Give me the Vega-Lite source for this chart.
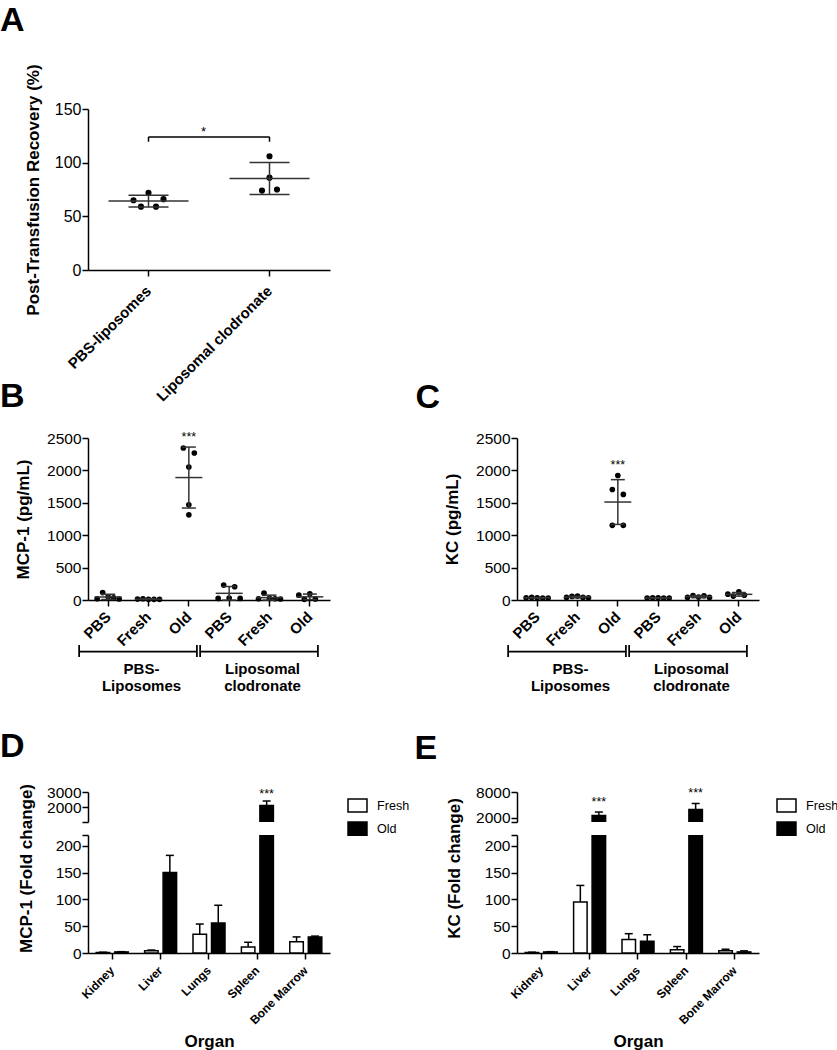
{
  "$schema": "https://vega.github.io/schema/vega-lite/v6.json",
  "padding": {"left": 0, "top": 3, "right": 0, "bottom": 0},
  "background": "white",
  "columns": 2,
  "spacing": {"row": 13, "column": 187},
  "bounds": "flush",
  "resolve": {"scale": {"fill": "independent"}, "legend": {"fill": "independent"}},
  "datasets": {
    "recovery": [
      {"group": "PBS-liposomes", "slot": 1, "value": 65},
      {"group": "PBS-liposomes", "slot": 2, "value": 59},
      {"group": "PBS-liposomes", "slot": 3, "value": 72},
      {"group": "PBS-liposomes", "slot": 4, "value": 59},
      {"group": "PBS-liposomes", "slot": 5, "value": 66},
      {"group": "Liposomal clodronate", "slot": 2, "value": 74},
      {"group": "Liposomal clodronate", "slot": 3, "value": 86},
      {"group": "Liposomal clodronate", "slot": 3, "value": 106},
      {"group": "Liposomal clodronate", "slot": 4, "value": 75}
    ],
    "sigA": [
      {"from": "PBS-liposomes", "to": "Liposomal clodronate", "level": 124, "foot": 119.5, "label": "*"}
    ],
    "mcp1": [
      {"cat": "PBS-Liposomes|PBS", "slot": 1, "value": 20},
      {"cat": "PBS-Liposomes|PBS", "slot": 2, "value": 115},
      {"cat": "PBS-Liposomes|PBS", "slot": 3, "value": 50},
      {"cat": "PBS-Liposomes|PBS", "slot": 4, "value": 35},
      {"cat": "PBS-Liposomes|PBS", "slot": 5, "value": 15},
      {"cat": "PBS-Liposomes|Fresh", "slot": 1, "value": 15},
      {"cat": "PBS-Liposomes|Fresh", "slot": 2, "value": 20},
      {"cat": "PBS-Liposomes|Fresh", "slot": 3, "value": 10},
      {"cat": "PBS-Liposomes|Fresh", "slot": 4, "value": 10},
      {"cat": "PBS-Liposomes|Fresh", "slot": 5, "value": 10},
      {"cat": "PBS-Liposomes|Old", "slot": 2, "value": 2345},
      {"cat": "PBS-Liposomes|Old", "slot": 4, "value": 2268},
      {"cat": "PBS-Liposomes|Old", "slot": 3, "value": 2052},
      {"cat": "PBS-Liposomes|Old", "slot": 3, "value": 1469},
      {"cat": "PBS-Liposomes|Old", "slot": 3, "value": 1314},
      {"cat": "Liposomal clodronate|PBS", "slot": 1, "value": 25},
      {"cat": "Liposomal clodronate|PBS", "slot": 2, "value": 230},
      {"cat": "Liposomal clodronate|PBS", "slot": 3, "value": 30},
      {"cat": "Liposomal clodronate|PBS", "slot": 4, "value": 205},
      {"cat": "Liposomal clodronate|PBS", "slot": 5, "value": 25},
      {"cat": "Liposomal clodronate|Fresh", "slot": 1, "value": 20},
      {"cat": "Liposomal clodronate|Fresh", "slot": 2, "value": 105},
      {"cat": "Liposomal clodronate|Fresh", "slot": 3, "value": 25},
      {"cat": "Liposomal clodronate|Fresh", "slot": 4, "value": 20},
      {"cat": "Liposomal clodronate|Fresh", "slot": 5, "value": 15},
      {"cat": "Liposomal clodronate|Old", "slot": 1, "value": 75},
      {"cat": "Liposomal clodronate|Old", "slot": 2, "value": 10},
      {"cat": "Liposomal clodronate|Old", "slot": 3, "value": 95},
      {"cat": "Liposomal clodronate|Old", "slot": 4, "value": 15}
    ],
    "kc": [
      {"cat": "PBS-Liposomes|PBS", "slot": 1, "value": 35},
      {"cat": "PBS-Liposomes|PBS", "slot": 2, "value": 40},
      {"cat": "PBS-Liposomes|PBS", "slot": 3, "value": 35},
      {"cat": "PBS-Liposomes|PBS", "slot": 4, "value": 30},
      {"cat": "PBS-Liposomes|PBS", "slot": 5, "value": 30},
      {"cat": "PBS-Liposomes|Fresh", "slot": 1, "value": 40},
      {"cat": "PBS-Liposomes|Fresh", "slot": 2, "value": 55},
      {"cat": "PBS-Liposomes|Fresh", "slot": 3, "value": 60},
      {"cat": "PBS-Liposomes|Fresh", "slot": 4, "value": 40},
      {"cat": "PBS-Liposomes|Fresh", "slot": 5, "value": 35},
      {"cat": "PBS-Liposomes|Old", "slot": 3, "value": 1921},
      {"cat": "PBS-Liposomes|Old", "slot": 2, "value": 1705},
      {"cat": "PBS-Liposomes|Old", "slot": 4, "value": 1629},
      {"cat": "PBS-Liposomes|Old", "slot": 2, "value": 1152},
      {"cat": "PBS-Liposomes|Old", "slot": 4, "value": 1152},
      {"cat": "Liposomal clodronate|PBS", "slot": 1, "value": 30},
      {"cat": "Liposomal clodronate|PBS", "slot": 2, "value": 35},
      {"cat": "Liposomal clodronate|PBS", "slot": 3, "value": 35},
      {"cat": "Liposomal clodronate|PBS", "slot": 4, "value": 30},
      {"cat": "Liposomal clodronate|PBS", "slot": 5, "value": 30},
      {"cat": "Liposomal clodronate|Fresh", "slot": 1, "value": 40},
      {"cat": "Liposomal clodronate|Fresh", "slot": 2, "value": 70},
      {"cat": "Liposomal clodronate|Fresh", "slot": 3, "value": 45},
      {"cat": "Liposomal clodronate|Fresh", "slot": 4, "value": 65},
      {"cat": "Liposomal clodronate|Fresh", "slot": 5, "value": 40},
      {"cat": "Liposomal clodronate|Old", "slot": 1, "value": 90},
      {"cat": "Liposomal clodronate|Old", "slot": 2, "value": 60},
      {"cat": "Liposomal clodronate|Old", "slot": 3, "value": 125},
      {"cat": "Liposomal clodronate|Old", "slot": 4, "value": 75}
    ],
    "brackets": [
      {"group": "PBS-\nLiposomes", "first": "PBS-Liposomes|PBS", "mid": "PBS-Liposomes|Fresh", "last": "PBS-Liposomes|Old"},
      {"group": "Liposomal\nclodronate", "first": "Liposomal clodronate|PBS", "mid": "Liposomal clodronate|Fresh", "last": "Liposomal clodronate|Old"}
    ],
    "mcp1_organ": [
      {"organ": "Kidney", "condition": "Fresh", "mean": 1, "upper": 1.5, "sig": ""},
      {"organ": "Kidney", "condition": "Old", "mean": 2, "upper": 2.5, "sig": ""},
      {"organ": "Liver", "condition": "Fresh", "mean": 4, "upper": 5.5, "sig": ""},
      {"organ": "Liver", "condition": "Old", "mean": 150, "upper": 182, "sig": ""},
      {"organ": "Lungs", "condition": "Fresh", "mean": 35, "upper": 54, "sig": ""},
      {"organ": "Lungs", "condition": "Old", "mean": 56, "upper": 89, "sig": ""},
      {"organ": "Spleen", "condition": "Fresh", "mean": 11, "upper": 20, "sig": ""},
      {"organ": "Spleen", "condition": "Old", "mean": 2100, "upper": 2400, "sig": "***"},
      {"organ": "Bone Marrow", "condition": "Fresh", "mean": 21, "upper": 30, "sig": ""},
      {"organ": "Bone Marrow", "condition": "Old", "mean": 30, "upper": 31.5, "sig": ""}
    ],
    "kc_organ": [
      {"organ": "Kidney", "condition": "Fresh", "mean": 1, "upper": 1.5, "sig": ""},
      {"organ": "Kidney", "condition": "Old", "mean": 2, "upper": 2.5, "sig": ""},
      {"organ": "Liver", "condition": "Fresh", "mean": 95, "upper": 126, "sig": ""},
      {"organ": "Liver", "condition": "Old", "mean": 2540, "upper": 3325, "sig": "***"},
      {"organ": "Lungs", "condition": "Fresh", "mean": 25, "upper": 36, "sig": ""},
      {"organ": "Lungs", "condition": "Old", "mean": 22, "upper": 34, "sig": ""},
      {"organ": "Spleen", "condition": "Fresh", "mean": 6, "upper": 12, "sig": ""},
      {"organ": "Spleen", "condition": "Old", "mean": 3900, "upper": 5320, "sig": "***"},
      {"organ": "Bone Marrow", "condition": "Fresh", "mean": 4, "upper": 7, "sig": ""},
      {"organ": "Bone Marrow", "condition": "Old", "mean": 2, "upper": 4, "sig": ""}
    ]
  },
  "concat": [
    {
      "width": 242, "height": 161,
      "title": {"text": "A", "dx": -88, "dy": -22},
      "data": {"name": "recovery"},
      "encoding": {
        "x": {"field": "group", "type": "nominal", "title": null,
              "scale": {"domain": ["PBS-liposomes", "Liposomal clodronate"], "paddingInner": 0, "paddingOuter": 0},
              "axis": {"labelAngle": -45, "labelAlign": "right", "labelBaseline": "middle", "labelFontWeight": "bold", "labelFontSize": 15, "labelPadding": 12}},
        "y": {"field": "value", "type": "quantitative", "title": "Post-Transfusion Recovery (%)",
              "scale": {"domain": [0, 150], "nice": false},
              "axis": {"values": [0, 50, 100, 150], "format": "d", "labelFontSize": 16, "titlePadding": 12, "labelOverlap": false}}
      },
      "layer": [
        {"transform": [{"filter": "datum.slot == 1"}], "mark": {"type": "circle", "size": 38, "color": "black", "opacity": 1, "xOffset": -15}},
        {"transform": [{"filter": "datum.slot == 2"}], "mark": {"type": "circle", "size": 38, "color": "black", "opacity": 1, "xOffset": -7.5}},
        {"transform": [{"filter": "datum.slot == 3"}], "mark": {"type": "circle", "size": 38, "color": "black", "opacity": 1, "xOffset": 0}},
        {"transform": [{"filter": "datum.slot == 4"}], "mark": {"type": "circle", "size": 38, "color": "black", "opacity": 1, "xOffset": 7.5}},
        {"transform": [{"filter": "datum.slot == 5"}], "mark": {"type": "circle", "size": 38, "color": "black", "opacity": 1, "xOffset": 15}},
        {
          "mark": {"type": "errorbar", "extent": "stdev", "color": "#333", "opacity": 1, "thickness": 1.5,
                   "ticks": {"size": 40, "thickness": 1.5, "opacity": 1, "color": "#333"},
                   "rule": {"strokeWidth": 1.5, "color": "#333"}}
        },
        {
          "mark": {"type": "tick", "size": 80, "thickness": 1.5, "color": "#333", "opacity": 1},
          "encoding": {
            "y": {"aggregate": "mean", "field": "value", "type": "quantitative", "title": "Post-Transfusion Recovery (%)"}
          }
        },
        {
          "data": {"name": "sigA"},
          "mark": {"type": "rule", "color": "black", "strokeWidth": 1.5},
          "encoding": {
            "x": {"field": "from", "type": "nominal", "bandPosition": 0.5, "title": null},
            "x2": {"field": "to", "bandPosition": 0.5},
            "y": {"field": "level", "type": "quantitative", "title": "Post-Transfusion Recovery (%)"}
          }
        },
        {
          "data": {"name": "sigA"},
          "transform": [{"fold": ["from", "to"], "as": ["end", "cat"]}],
          "mark": {"type": "rule", "color": "black", "strokeWidth": 1.5},
          "encoding": {
            "x": {"field": "cat", "type": "nominal", "title": null},
            "y": {"field": "foot", "type": "quantitative", "title": "Post-Transfusion Recovery (%)"},
            "y2": {"field": "level"}
          }
        },
        {
          "data": {"name": "sigA"},
          "mark": {"type": "text", "fontSize": 13, "baseline": "alphabetic", "dx": 55, "dy": -1, "color": "black"},
          "encoding": {
            "x": {"field": "from", "type": "nominal", "title": null},
            "y": {"field": "level", "type": "quantitative", "title": "Post-Transfusion Recovery (%)"},
            "text": {"field": "label"}
          }
        }
      ]
    },
    {
      "width": 242, "height": 316,
      "data": {"values": []},
      "mark": {"type": "point", "opacity": 0},
      "encoding": {}
    },
    {
      "width": 242, "height": 162,
      "title": {"text": "B", "dx": -88, "dy": -13},
      "data": {"name": "mcp1"},
      "encoding": {
        "x": {"field": "cat", "type": "nominal", "title": null,
              "scale": {"domain": ["PBS-Liposomes|PBS", "PBS-Liposomes|Fresh", "PBS-Liposomes|Old", "Liposomal clodronate|PBS", "Liposomal clodronate|Fresh", "Liposomal clodronate|Old"], "paddingInner": 0, "paddingOuter": 0},
              "axis": {"labelExpr": "split(datum.label, '|')[1]", "labelAngle": -45, "labelAlign": "right", "labelBaseline": "middle", "labelFontWeight": "bold", "labelFontSize": 15, "labelPadding": 8}},
        "y": {"field": "value", "type": "quantitative", "title": "MCP-1 (pg/mL)",
              "scale": {"domain": [0, 2500], "nice": false},
              "axis": {"values": [0, 500, 1000, 1500, 2000, 2500], "format": "d", "titlePadding": 14, "labelOverlap": false}}
      },
      "layer": [
        {"transform": [{"filter": "datum.slot == 1"}], "mark": {"type": "circle", "size": 32, "color": "black", "opacity": 1, "xOffset": -11}},
        {"transform": [{"filter": "datum.slot == 2"}], "mark": {"type": "circle", "size": 32, "color": "black", "opacity": 1, "xOffset": -5.5}},
        {"transform": [{"filter": "datum.slot == 3"}], "mark": {"type": "circle", "size": 32, "color": "black", "opacity": 1, "xOffset": 0}},
        {"transform": [{"filter": "datum.slot == 4"}], "mark": {"type": "circle", "size": 32, "color": "black", "opacity": 1, "xOffset": 5.5}},
        {"transform": [{"filter": "datum.slot == 5"}], "mark": {"type": "circle", "size": 32, "color": "black", "opacity": 1, "xOffset": 11}},
        {
          "mark": {"type": "errorbar", "extent": "stdev", "color": "#333", "opacity": 1, "thickness": 1.5,
                   "ticks": {"size": 14, "thickness": 1.5, "opacity": 1, "color": "#333"},
                   "rule": {"strokeWidth": 1.5, "color": "#333"}}
        },
        {
          "mark": {"type": "tick", "size": 27, "thickness": 1.5, "color": "#333", "opacity": 1},
          "encoding": {
            "y": {"aggregate": "mean", "field": "value", "type": "quantitative", "title": "MCP-1 (pg/mL)"}
          }
        },
        {
          "transform": [
            {"filter": "datum.cat === 'PBS-Liposomes|Old'"},
            {"aggregate": [{"op": "max", "field": "value", "as": "top"}], "groupby": ["cat"]}
          ],
          "mark": {"type": "text", "text": "***", "baseline": "bottom", "dy": -4, "fontSize": 12.5, "color": "black"},
          "encoding": {
            "y": {"field": "top", "type": "quantitative", "title": "MCP-1 (pg/mL)"}
          }
        }
      ]
    },
    {
      "width": 242, "height": 162,
      "title": {"text": "C", "dx": -101.5, "dy": -12},
      "data": {"name": "kc"},
      "encoding": {
        "x": {"field": "cat", "type": "nominal", "title": null,
              "scale": {"domain": ["PBS-Liposomes|PBS", "PBS-Liposomes|Fresh", "PBS-Liposomes|Old", "Liposomal clodronate|PBS", "Liposomal clodronate|Fresh", "Liposomal clodronate|Old"], "paddingInner": 0, "paddingOuter": 0},
              "axis": {"labelExpr": "split(datum.label, '|')[1]", "labelAngle": -45, "labelAlign": "right", "labelBaseline": "middle", "labelFontWeight": "bold", "labelFontSize": 15, "labelPadding": 8}},
        "y": {"field": "value", "type": "quantitative", "title": "KC (pg/mL)",
              "scale": {"domain": [0, 2500], "nice": false},
              "axis": {"values": [0, 500, 1000, 1500, 2000, 2500], "format": "d", "titlePadding": 14, "labelOverlap": false}}
      },
      "layer": [
        {"transform": [{"filter": "datum.slot == 1"}], "mark": {"type": "circle", "size": 32, "color": "black", "opacity": 1, "xOffset": -11}},
        {"transform": [{"filter": "datum.slot == 2"}], "mark": {"type": "circle", "size": 32, "color": "black", "opacity": 1, "xOffset": -5.5}},
        {"transform": [{"filter": "datum.slot == 3"}], "mark": {"type": "circle", "size": 32, "color": "black", "opacity": 1, "xOffset": 0}},
        {"transform": [{"filter": "datum.slot == 4"}], "mark": {"type": "circle", "size": 32, "color": "black", "opacity": 1, "xOffset": 5.5}},
        {"transform": [{"filter": "datum.slot == 5"}], "mark": {"type": "circle", "size": 32, "color": "black", "opacity": 1, "xOffset": 11}},
        {
          "mark": {"type": "errorbar", "extent": "stdev", "color": "#333", "opacity": 1, "thickness": 1.5,
                   "ticks": {"size": 14, "thickness": 1.5, "opacity": 1, "color": "#333"},
                   "rule": {"strokeWidth": 1.5, "color": "#333"}}
        },
        {
          "mark": {"type": "tick", "size": 27, "thickness": 1.5, "color": "#333", "opacity": 1},
          "encoding": {
            "y": {"aggregate": "mean", "field": "value", "type": "quantitative", "title": "KC (pg/mL)"}
          }
        },
        {
          "transform": [
            {"filter": "datum.cat === 'PBS-Liposomes|Old'"},
            {"aggregate": [{"op": "max", "field": "value", "as": "top"}], "groupby": ["cat"]}
          ],
          "mark": {"type": "text", "text": "***", "baseline": "bottom", "dy": -4, "fontSize": 12.5, "color": "black"},
          "encoding": {
            "y": {"field": "top", "type": "quantitative", "title": "KC (pg/mL)"}
          }
        }
      ]
    },
    {
      "width": 242, "height": 166,
      "data": {"name": "brackets"},
      "layer": [
        {
          "mark": {"type": "rule", "color": "black", "strokeWidth": 1.75},
          "encoding": {
            "x": {"field": "first", "type": "nominal", "bandPosition": -0.22, "title": null,
                  "scale": {"domain": ["PBS-Liposomes|PBS", "PBS-Liposomes|Fresh", "PBS-Liposomes|Old", "Liposomal clodronate|PBS", "Liposomal clodronate|Fresh", "Liposomal clodronate|Old"], "paddingInner": 0, "paddingOuter": 0},
                  "axis": null},
            "x2": {"field": "last", "bandPosition": 0.7},
            "y": {"datum": 0.768, "type": "quantitative", "scale": {"domain": [0, 1], "nice": false}, "axis": null}
          }
        },
        {
          "mark": {"type": "rule", "color": "black", "strokeWidth": 1.75},
          "encoding": {
            "x": {"field": "first", "type": "nominal", "bandPosition": -0.22, "title": null},
            "y": {"datum": 0.807, "type": "quantitative"},
            "y2": {"datum": 0.735}
          }
        },
        {
          "mark": {"type": "rule", "color": "black", "strokeWidth": 1.75},
          "encoding": {
            "x": {"field": "last", "type": "nominal", "bandPosition": 0.7, "title": null},
            "y": {"datum": 0.807, "type": "quantitative"},
            "y2": {"datum": 0.735}
          }
        },
        {
          "mark": {"type": "text", "lineBreak": "\n", "fontWeight": "bold", "fontSize": 15, "baseline": "top", "dy": 5, "dx": -7, "lineHeight": 17.5, "color": "black"},
          "encoding": {
            "x": {"field": "mid", "type": "nominal", "bandPosition": 0.5, "title": null},
            "y": {"datum": 0.735, "type": "quantitative"},
            "text": {"field": "group"}
          }
        }
      ]
    },
    {
      "width": 242, "height": 166,
      "data": {"name": "brackets"},
      "layer": [
        {
          "mark": {"type": "rule", "color": "black", "strokeWidth": 1.75},
          "encoding": {
            "x": {"field": "first", "type": "nominal", "bandPosition": -0.22, "title": null,
                  "scale": {"domain": ["PBS-Liposomes|PBS", "PBS-Liposomes|Fresh", "PBS-Liposomes|Old", "Liposomal clodronate|PBS", "Liposomal clodronate|Fresh", "Liposomal clodronate|Old"], "paddingInner": 0, "paddingOuter": 0},
                  "axis": null},
            "x2": {"field": "last", "bandPosition": 0.7},
            "y": {"datum": 0.768, "type": "quantitative", "scale": {"domain": [0, 1], "nice": false}, "axis": null}
          }
        },
        {
          "mark": {"type": "rule", "color": "black", "strokeWidth": 1.75},
          "encoding": {
            "x": {"field": "first", "type": "nominal", "bandPosition": -0.22, "title": null},
            "y": {"datum": 0.807, "type": "quantitative"},
            "y2": {"datum": 0.735}
          }
        },
        {
          "mark": {"type": "rule", "color": "black", "strokeWidth": 1.75},
          "encoding": {
            "x": {"field": "last", "type": "nominal", "bandPosition": 0.7, "title": null},
            "y": {"datum": 0.807, "type": "quantitative"},
            "y2": {"datum": 0.735}
          }
        },
        {
          "mark": {"type": "text", "lineBreak": "\n", "fontWeight": "bold", "fontSize": 15, "baseline": "top", "dy": 5, "dx": -7, "lineHeight": 17.5, "color": "black"},
          "encoding": {
            "x": {"field": "mid", "type": "nominal", "bandPosition": 0.5, "title": null},
            "y": {"datum": 0.735, "type": "quantitative"},
            "text": {"field": "group"}
          }
        }
      ]
    },
    {
      "width": 242, "height": 30,
      "title": {"text": "D", "dx": -88, "dy": -17.1},
      "data": {"name": "mcp1_organ"},
      "encoding": {
        "x": {"field": "organ", "type": "nominal", "title": null,
              "scale": {"domain": ["Kidney", "Liver", "Lungs", "Spleen", "Bone Marrow"], "paddingInner": 0.34, "paddingOuter": 0.17},
              "axis": null},
        "y": {"field": "mean", "type": "quantitative", "title": null,
              "scale": {"domain": [1000, 3000], "nice": false, "zero": false},
              "axis": {"values": [1000, 2000, 3000], "format": "d", "labelOverlap": false, "labelExpr": "datum.value == 1000 ? '' : datum.label"}}
      },
      "layer": [
        {
          "transform": [{"filter": "datum.condition == 'Fresh'"}],
          "mark": {"type": "bar", "width": 13.5, "xOffset": -9.25, "stroke": "black", "strokeWidth": 1.5, "clip": true},
          "encoding": {
            "fill": {"field": "condition", "type": "nominal",
                     "scale": {"domain": ["Fresh", "Old"], "range": ["white", "black"]},
                     "legend": {"orient": "none", "legendX": 261, "legendY": 5, "title": null,
                                "symbolType": "M-1.3,-0.9H1.3V0.9H-1.3Z", "symbolSize": 213,
                                "symbolStrokeColor": "black", "symbolStrokeWidth": 1.5, "symbolOpacity": 1,
                                "labelFontSize": 12.6, "labelOffset": 11, "labelColor": "black", "padding": 0, "rowPadding": 2.1}}
          }
        },
        {
          "transform": [{"filter": "datum.condition == 'Old'"}],
          "mark": {"type": "bar", "width": 13.5, "xOffset": 9.25, "stroke": "black", "strokeWidth": 1.5, "clip": true},
          "encoding": {"fill": {"field": "condition", "type": "nominal"}}
        },
        {
          "transform": [{"filter": "datum.condition == 'Fresh'"}],
          "mark": {"type": "rule", "xOffset": -9.25, "color": "black", "strokeWidth": 1.5, "clip": true},
          "encoding": {"y2": {"field": "upper"}}
        },
        {
          "transform": [{"filter": "datum.condition == 'Old'"}],
          "mark": {"type": "rule", "xOffset": 9.25, "color": "black", "strokeWidth": 1.5, "clip": true},
          "encoding": {"y2": {"field": "upper"}}
        },
        {
          "transform": [{"filter": "datum.condition == 'Fresh'"}],
          "mark": {"type": "tick", "xOffset": -9.25, "size": 8, "thickness": 1.5, "color": "black", "opacity": 1, "clip": true},
          "encoding": {"y": {"field": "upper", "type": "quantitative", "title": null}}
        },
        {
          "transform": [{"filter": "datum.condition == 'Old'"}],
          "mark": {"type": "tick", "xOffset": 9.25, "size": 8, "thickness": 1.5, "color": "black", "opacity": 1, "clip": true},
          "encoding": {"y": {"field": "upper", "type": "quantitative", "title": null}}
        },
        {
          "transform": [{"filter": "datum.sig != ''"}],
          "mark": {"type": "text", "xOffset": 9.25, "baseline": "bottom", "dy": 0, "fontSize": 12.5, "color": "black"},
          "encoding": {
            "y": {"field": "upper", "type": "quantitative", "title": null},
            "text": {"field": "sig"}
          }
        }
      ]
    },
    {
      "width": 242, "height": 30,
      "title": {"text": "E", "dx": -102.5, "dy": -15.1},
      "data": {"name": "kc_organ"},
      "encoding": {
        "x": {"field": "organ", "type": "nominal", "title": null,
              "scale": {"domain": ["Kidney", "Liver", "Lungs", "Spleen", "Bone Marrow"], "paddingInner": 0.34, "paddingOuter": 0.17},
              "axis": null},
        "y": {"field": "mean", "type": "quantitative", "title": null,
              "scale": {"domain": [1000, 8000], "nice": false, "zero": false},
              "axis": {"values": [1000, 2000, 8000], "format": "d", "labelOverlap": false, "labelExpr": "datum.value == 1000 ? '' : datum.label"}}
      },
      "layer": [
        {
          "transform": [{"filter": "datum.condition == 'Fresh'"}],
          "mark": {"type": "bar", "width": 13.5, "xOffset": -9.25, "stroke": "black", "strokeWidth": 1.5, "clip": true},
          "encoding": {
            "fill": {"field": "condition", "type": "nominal",
                     "scale": {"domain": ["Fresh", "Old"], "range": ["white", "black"]},
                     "legend": {"orient": "none", "legendX": 261, "legendY": 5, "title": null,
                                "symbolType": "M-1.3,-0.9H1.3V0.9H-1.3Z", "symbolSize": 213,
                                "symbolStrokeColor": "black", "symbolStrokeWidth": 1.5, "symbolOpacity": 1,
                                "labelFontSize": 12.6, "labelOffset": 11, "labelColor": "black", "padding": 0, "rowPadding": 2.1}}
          }
        },
        {
          "transform": [{"filter": "datum.condition == 'Old'"}],
          "mark": {"type": "bar", "width": 13.5, "xOffset": 9.25, "stroke": "black", "strokeWidth": 1.5, "clip": true},
          "encoding": {"fill": {"field": "condition", "type": "nominal"}}
        },
        {
          "transform": [{"filter": "datum.condition == 'Fresh'"}],
          "mark": {"type": "rule", "xOffset": -9.25, "color": "black", "strokeWidth": 1.5, "clip": true},
          "encoding": {"y2": {"field": "upper"}}
        },
        {
          "transform": [{"filter": "datum.condition == 'Old'"}],
          "mark": {"type": "rule", "xOffset": 9.25, "color": "black", "strokeWidth": 1.5, "clip": true},
          "encoding": {"y2": {"field": "upper"}}
        },
        {
          "transform": [{"filter": "datum.condition == 'Fresh'"}],
          "mark": {"type": "tick", "xOffset": -9.25, "size": 8, "thickness": 1.5, "color": "black", "opacity": 1, "clip": true},
          "encoding": {"y": {"field": "upper", "type": "quantitative", "title": null}}
        },
        {
          "transform": [{"filter": "datum.condition == 'Old'"}],
          "mark": {"type": "tick", "xOffset": 9.25, "size": 8, "thickness": 1.5, "color": "black", "opacity": 1, "clip": true},
          "encoding": {"y": {"field": "upper", "type": "quantitative", "title": null}}
        },
        {
          "transform": [{"filter": "datum.sig != ''"}],
          "mark": {"type": "text", "xOffset": 9.25, "baseline": "bottom", "dy": -3, "fontSize": 12.5, "color": "black"},
          "encoding": {
            "y": {"field": "upper", "type": "quantitative", "title": null},
            "text": {"field": "sig"}
          }
        }
      ]
    },
    {
      "width": 242, "height": 118,
      "data": {"name": "mcp1_organ"},
      "encoding": {
        "x": {"field": "organ", "type": "nominal", "title": "Organ",
              "scale": {"domain": ["Kidney", "Liver", "Lungs", "Spleen", "Bone Marrow"], "paddingInner": 0.34, "paddingOuter": 0.17},
              "axis": {"labelAngle": -45, "labelAlign": "right", "labelBaseline": "middle", "labelFontWeight": "bold", "labelFontSize": 12, "labelPadding": 9, "titlePadding": 8}},
        "y": {"field": "mean", "type": "quantitative", "title": "MCP-1 (Fold change)",
              "scale": {"domain": [0, 220], "nice": false},
              "axis": {"values": [0, 50, 100, 150, 200, 220], "format": "d", "labelOverlap": false, "labelExpr": "datum.value == 220 ? '' : datum.label", "titleX": -53, "titleY": 33}}
      },
      "layer": [
        {
          "transform": [{"filter": "datum.condition == 'Fresh'"}],
          "mark": {"type": "bar", "width": 13.5, "xOffset": -9.25, "stroke": "black", "strokeWidth": 1.5, "clip": true},
          "encoding": {"fill": {"field": "condition", "type": "nominal", "scale": {"domain": ["Fresh", "Old"], "range": ["white", "black"]}, "legend": null}}
        },
        {
          "transform": [{"filter": "datum.condition == 'Old'"}],
          "mark": {"type": "bar", "width": 13.5, "xOffset": 9.25, "stroke": "black", "strokeWidth": 1.5, "clip": true},
          "encoding": {"fill": {"field": "condition", "type": "nominal", "legend": null}}
        },
        {
          "transform": [{"filter": "datum.condition == 'Fresh'"}],
          "mark": {"type": "rule", "xOffset": -9.25, "color": "black", "strokeWidth": 1.5, "clip": true},
          "encoding": {"y2": {"field": "upper"}}
        },
        {
          "transform": [{"filter": "datum.condition == 'Old'"}],
          "mark": {"type": "rule", "xOffset": 9.25, "color": "black", "strokeWidth": 1.5, "clip": true},
          "encoding": {"y2": {"field": "upper"}}
        },
        {
          "transform": [{"filter": "datum.condition == 'Fresh'"}],
          "mark": {"type": "tick", "xOffset": -9.25, "size": 8, "thickness": 1.5, "color": "black", "opacity": 1, "clip": true},
          "encoding": {"y": {"field": "upper", "type": "quantitative", "title": "MCP-1 (Fold change)"}}
        },
        {
          "transform": [{"filter": "datum.condition == 'Old'"}],
          "mark": {"type": "tick", "xOffset": 9.25, "size": 8, "thickness": 1.5, "color": "black", "opacity": 1, "clip": true},
          "encoding": {"y": {"field": "upper", "type": "quantitative", "title": "MCP-1 (Fold change)"}}
        }
      ]
    },
    {
      "width": 242, "height": 118,
      "data": {"name": "kc_organ"},
      "encoding": {
        "x": {"field": "organ", "type": "nominal", "title": "Organ",
              "scale": {"domain": ["Kidney", "Liver", "Lungs", "Spleen", "Bone Marrow"], "paddingInner": 0.34, "paddingOuter": 0.17},
              "axis": {"labelAngle": -45, "labelAlign": "right", "labelBaseline": "middle", "labelFontWeight": "bold", "labelFontSize": 12, "labelPadding": 9, "titlePadding": 8}},
        "y": {"field": "mean", "type": "quantitative", "title": "KC (Fold change)",
              "scale": {"domain": [0, 220], "nice": false},
              "axis": {"values": [0, 50, 100, 150, 200, 220], "format": "d", "labelOverlap": false, "labelExpr": "datum.value == 220 ? '' : datum.label", "titleX": -54, "titleY": 33}}
      },
      "layer": [
        {
          "transform": [{"filter": "datum.condition == 'Fresh'"}],
          "mark": {"type": "bar", "width": 13.5, "xOffset": -9.25, "stroke": "black", "strokeWidth": 1.5, "clip": true},
          "encoding": {"fill": {"field": "condition", "type": "nominal", "scale": {"domain": ["Fresh", "Old"], "range": ["white", "black"]}, "legend": null}}
        },
        {
          "transform": [{"filter": "datum.condition == 'Old'"}],
          "mark": {"type": "bar", "width": 13.5, "xOffset": 9.25, "stroke": "black", "strokeWidth": 1.5, "clip": true},
          "encoding": {"fill": {"field": "condition", "type": "nominal", "legend": null}}
        },
        {
          "transform": [{"filter": "datum.condition == 'Fresh'"}],
          "mark": {"type": "rule", "xOffset": -9.25, "color": "black", "strokeWidth": 1.5, "clip": true},
          "encoding": {"y2": {"field": "upper"}}
        },
        {
          "transform": [{"filter": "datum.condition == 'Old'"}],
          "mark": {"type": "rule", "xOffset": 9.25, "color": "black", "strokeWidth": 1.5, "clip": true},
          "encoding": {"y2": {"field": "upper"}}
        },
        {
          "transform": [{"filter": "datum.condition == 'Fresh'"}],
          "mark": {"type": "tick", "xOffset": -9.25, "size": 8, "thickness": 1.5, "color": "black", "opacity": 1, "clip": true},
          "encoding": {"y": {"field": "upper", "type": "quantitative", "title": "KC (Fold change)"}}
        },
        {
          "transform": [{"filter": "datum.condition == 'Old'"}],
          "mark": {"type": "tick", "xOffset": 9.25, "size": 8, "thickness": 1.5, "color": "black", "opacity": 1, "clip": true},
          "encoding": {"y": {"field": "upper", "type": "quantitative", "title": "KC (Fold change)"}}
        }
      ]
    }
  ],
  "config": {
    "view": {"stroke": null},
    "font": "Liberation Sans",
    "axis": {
      "domainColor": "black", "domainWidth": 1.5, "tickColor": "black", "tickWidth": 1.5, "tickSize": 6,
      "labelColor": "black", "labelFontSize": 15.5, "labelPadding": 1, "labelOverlap": false,
      "labelFont": "Liberation Sans", "titleFont": "Liberation Sans",
      "titleColor": "black", "titleFontSize": 17, "titleFontWeight": "bold", "grid": false
    },
    "title": {"font": "Liberation Sans", "fontSize": 34, "fontWeight": "bold", "color": "black", "anchor": "start", "frame": "group", "offset": 0},
    "text": {"font": "Liberation Sans", "color": "black"}
  }
}
